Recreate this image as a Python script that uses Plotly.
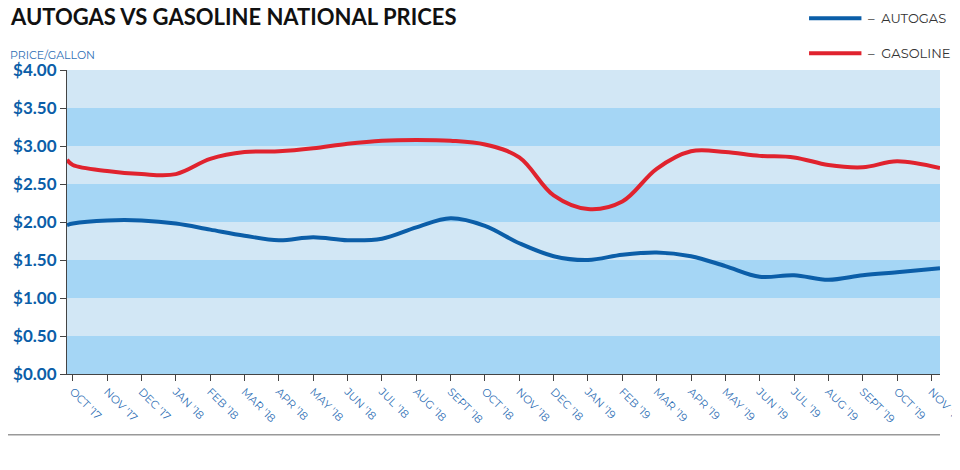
import plotly.graph_objects as go

months = ["OCT '17", "NOV '17", "DEC '17", "JAN '18", "FEB '18", "MAR '18", "APR '18",
          "MAY '18", "JUN '18", "JUL '18", "AUG '18", "SEPT '18", "OCT '18", "NOV '18",
          "DEC '18", "JAN '19", "FEB '19", "MAR '19", "APR '19", "MAY '19", "JUN '19",
          "JUL '19", "AUG '19", "SEPT '19", "OCT '19", "NOV '19"]
x_pos = [-0.17] + list(range(25)) + [25.25]
gasoline = [2.82, 2.75, 2.67, 2.63, 2.63, 2.83, 2.92, 2.93, 2.97, 3.03, 3.07, 3.08, 3.07, 3.02,
            2.85, 2.35, 2.17, 2.27, 2.7, 2.93, 2.92, 2.87, 2.85, 2.75, 2.72, 2.8, 2.71]
autogas = [1.96, 1.98, 2.02, 2.02, 1.98, 1.9, 1.82, 1.76, 1.8, 1.76, 1.78, 1.93, 2.05, 1.95,
           1.72, 1.55, 1.5, 1.57, 1.6, 1.55, 1.42, 1.28, 1.3, 1.24, 1.3, 1.34, 1.39]
y_ticks = [0, 0.5, 1, 1.5, 2, 2.5, 3, 3.5, 4]

blue = "#0b5ea8"
red = "#e0232e"

fig = go.Figure()
for lo, hi in zip(y_ticks[:-1], y_ticks[1:]):
    dark = int(lo * 2) % 2 == 0
    fig.add_shape(type="rect", xref="paper", yref="y", x0=0, x1=1, y0=lo, y1=hi,
                  fillcolor="#a5d6f5" if dark else "#d2e7f5", line_width=0, layer="below")

fig.add_trace(go.Scatter(x=x_pos, y=autogas, mode="lines", line=dict(color=blue, width=4, shape="spline")))
fig.add_trace(go.Scatter(x=x_pos, y=gasoline, mode="lines", line=dict(color=red, width=4, shape="spline")))

fig.update_layout(
    width=960, height=470, showlegend=False, plot_bgcolor="white", paper_bgcolor="white",
    margin=dict(l=59, r=28, t=62, b=104, autoexpand=False),
    font=dict(family="Montserrat, Lato, sans-serif"),
    xaxis=dict(range=[-0.17, 25.25], tickvals=list(range(26)), ticktext=months, tickangle=45,
               ticks="outside", ticklen=6, tickcolor="#444", showgrid=False, zeroline=False,
               showline=True, linecolor="#444", tickfont=dict(size=11, color="#2f6fb5")),
    yaxis=dict(range=[0, 4], tickvals=y_ticks, ticktext=["<b>$%.2f</b>" % v for v in y_ticks],
               ticks="outside", ticklen=6, tickcolor="#444", showgrid=False, zeroline=False,
               showline=True, linecolor="#444",
               tickfont=dict(size=17, color=blue, family="Lato, sans-serif")),
)
fig.add_annotation(xref="paper", yref="paper", x=-0.068, y=1.125, xanchor="left", yanchor="bottom",
                   text="<b>AUTOGAS VS GASOLINE NATIONAL PRICES</b>", showarrow=False,
                   font=dict(size=22, color="#111", family="Lato, sans-serif"))
fig.add_annotation(xref="paper", yref="paper", x=-0.068, y=1.02, xanchor="left", yanchor="bottom",
                   text="PRICE/GALLON", showarrow=False, font=dict(size=11, color="#2f6fb5"))
for name, col, yy in [("AUTOGAS", blue, 1.17), ("GASOLINE", red, 1.055)]:
    fig.add_shape(type="line", xref="paper", yref="paper", x0=0.85, x1=0.91, y0=yy, y1=yy,
                  line=dict(color=col, width=4))
    fig.add_annotation(xref="paper", yref="paper", x=0.915, y=yy, xanchor="left", yanchor="middle",
                       text="–  " + name, showarrow=False, font=dict(size=13, color="#333"))
fig.add_shape(type="line", xref="paper", yref="paper", x0=-0.07, x1=1.0, y0=-0.2, y1=-0.2,
              line=dict(color="#999", width=1.5))

fig.write_html("out.html")
